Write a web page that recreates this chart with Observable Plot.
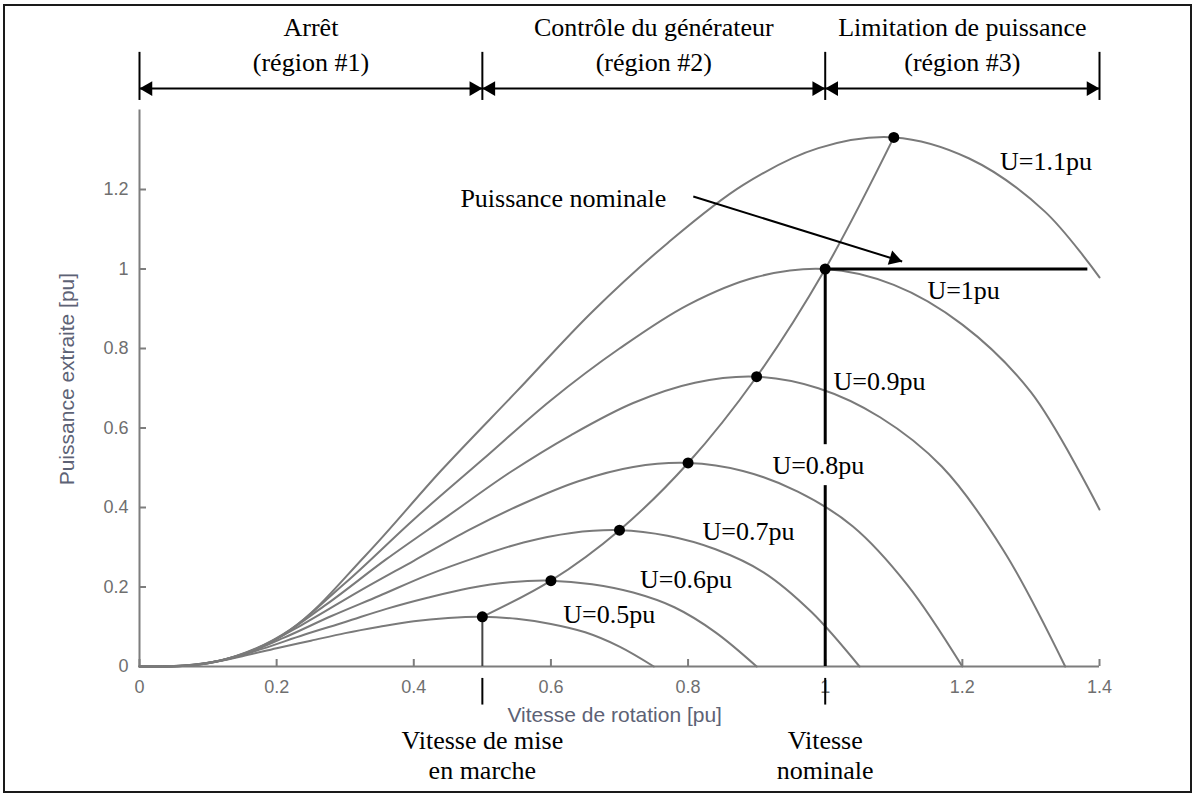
<!DOCTYPE html>
<html><head><meta charset="utf-8">
<script src="https://cdn.jsdelivr.net/npm/d3@7"></script>
<script src="https://cdn.jsdelivr.net/npm/@observablehq/plot@0.6"></script>
<style>
html,body{margin:0;padding:0;background:#fff;}
#wrap{position:relative;width:1197px;height:798px;overflow:hidden;background:#fff;}
#border{position:absolute;left:3px;top:4px;width:1189px;height:789px;border:2px solid #1a1a1a;box-sizing:border-box;pointer-events:none;}
#chart svg{display:block;}
</style></head><body>
<div id="wrap"><div id="chart"></div><div id="border"></div></div>
<script>
// ---- data ----
const windSpeeds = [0.5, 0.6, 0.7, 0.8, 0.9, 1.0, 1.1];
const U05x = [0,0.05,0.10,0.15,0.20,0.25,0.30,0.35,0.40,0.45,0.50,0.55,0.60,0.65,0.70,0.75];
const U05y = [0,0.001,0.009,0.026,0.046,0.065,0.084,0.100,0.114,0.122,0.125,0.120,0.107,0.086,0.050,0];
const U06x = [0,0.06,0.12,0.18,0.24,0.30,0.36,0.42,0.48,0.54,0.60,0.66,0.72,0.78,0.84,0.90];
const U06y = [0,0.002,0.015,0.045,0.080,0.112,0.145,0.173,0.197,0.212,0.216,0.207,0.186,0.149,0.086,0];
const U07x = [0,0.07,0.14,0.21,0.28,0.35,0.42,0.49,0.56,0.63,0.70,0.77,0.84,0.91,0.98,1.05];
const U07y = [0,0.003,0.024,0.072,0.127,0.178,0.230,0.274,0.312,0.336,0.343,0.329,0.295,0.237,0.137,0];
const U08x = [0,0.08,0.16,0.24,0.32,0.40,0.48,0.56,0.64,0.72,0.80,0.88,0.96,1.04,1.12,1.20];
const U08y = [0,0.004,0.036,0.108,0.189,0.266,0.343,0.410,0.466,0.502,0.512,0.492,0.440,0.353,0.205,0];
const U09x = [0,0.09,0.18,0.27,0.36,0.45,0.54,0.63,0.72,0.81,0.90,0.99,1.08,1.17,1.26,1.35];
const U09y = [0,0.006,0.051,0.153,0.270,0.379,0.488,0.583,0.663,0.714,0.729,0.700,0.627,0.503,0.292,0];
const U10x = [0,0.1,0.2,0.3,0.4,0.5,0.6,0.7,0.8,0.9,1.0,1.1,1.2,1.3,1.4];
const U10y = [0,0.008,0.070,0.210,0.370,0.520,0.670,0.800,0.910,0.980,1.000,0.960,0.860,0.690,0.395];
const U11x = [0,0.11,0.22,0.33,0.44,0.55,0.66,0.77,0.88,0.99,1.10,1.21,1.32,1.40];
const U11y = [0,0.011,0.093,0.280,0.493,0.692,0.892,1.065,1.211,1.304,1.331,1.278,1.145,0.979];

const peakX = [0.5, 0.6, 0.7, 0.8, 0.9, 1.0, 1.1];
const peakY = [0.125, 0.216, 0.343, 0.512, 0.729, 1.0, 1.331];

const xTicks = [0, 0.2, 0.4, 0.6, 0.8, 1, 1.2, 1.4];
const yTicks = [0, 0.2, 0.4, 0.6, 0.8, 1, 1.2];
const xLabel = "Vitesse de rotation [pu]";
const yLabel = "Puissance extraite [pu]";

const curveLabels = ["U=0.5pu","U=0.6pu","U=0.7pu","U=0.8pu","U=0.9pu","U=1pu","U=1.1pu"];
const curveLabelX = [0.618, 0.730, 0.821, 0.923, 1.012, 1.149, 1.255];
const curveLabelY = [0.131, 0.219, 0.340, 0.506, 0.717, 0.946, 1.270];

const regionBounds = [0, 0.5, 1.0, 1.4];
const regionNames = ["Arrêt", "Contrôle du générateur", "Limitation de puissance"];
const regionSubs = ["(région #1)", "(région #2)", "(région #3)"];
const regionArrowY = 1.454, regionBarTop = 1.545, regionBarBottom = 1.424;
const regionLine1Y = 1.607, regionLine2Y = 1.520;

const nominalPower = 1.0, nominalSpeed = 1.0, cutInSpeed = 0.5, powerLimitEnd = 1.383;
const gapLow = 0.455, gapHigh = 0.558;

const pnText = "Puissance nominale";
const pnTextPos = {x: 0.468, y: 1.177};
const pnArrow = {x1: 0.8076, y1: 1.1824, x2: 1.1122, y2: 1.0189};

const bottomNotes = [
  {x: 0.5, lines: ["Vitesse de mise", "en marche"]},
  {x: 1.0, lines: ["Vitesse", "nominale"]}
];
const bottomLineY = [-0.030, -0.097];
const bottomTextY = [-0.186, -0.262];

// ---- build tables ----
const series = [[U05x,U05y],[U06x,U06y],[U07x,U07y],[U08x,U08y],[U09x,U09y],[U10x,U10y],[U11x,U11y]];
const curves = [];
series.forEach(([xs, ys], k) => xs.forEach((x, i) => curves.push({u: windSpeeds[k], x, y: ys[i]})));
const peaks = peakX.map((x, i) => ({x, y: peakY[i]}));
const labels = curveLabels.map((t, i) => ({t, x: curveLabelX[i], y: curveLabelY[i]}));
const regions = regionNames.map((n, i) => ({name: n, sub: regionSubs[i], x1: regionBounds[i], x2: regionBounds[i+1], xm: (regionBounds[i] + regionBounds[i+1]) / 2}));
const leftHeads = regions.map(r => ({x: r.x1, y: regionArrowY}));
const rightHeads = regions.map(r => ({x: r.x2, y: regionArrowY}));
const bottomText = bottomNotes.flatMap(n => n.lines.map((t, j) => ({x: n.x, y: bottomTextY[j], t})));

const serif = "'Liberation Serif', 'Times New Roman', serif";
const sans = "'Liberation Sans', Arial, sans-serif";
const axisColor = "#7d7d7d", tickColor = "#6f6f6f", labelColor = "#5d6275", curveColor = "#7a7a7a";

const W = 1197, H = 798, mL = 139, mR = 98, mT = 109.5, mB = 132;
const pxPerX = (W - mL - mR) / 1.4, pxPerY = (H - mT - mB) / 1.4;
const tickLen = 7;
const adx = (pnArrow.x2 - pnArrow.x1) * pxPerX, ady = (pnArrow.y1 - pnArrow.y2) * pxPerY;
const ang = Math.atan2(ady, adx);
const headOff = 8.5;

const chart = Plot.plot({
  width: W, height: H,
  marginLeft: mL, marginRight: mR, marginTop: mT, marginBottom: mB,
  x: {domain: [0, 1.4]},
  y: {domain: [0, 1.4]},
  style: {fontFamily: sans, fontSize: "18px", background: "transparent", overflow: "visible"},
  marks: [
    // axes
    Plot.ruleY([0], {stroke: axisColor, strokeWidth: 2}),
    Plot.ruleX([0], {stroke: axisColor, strokeWidth: 2}),
    Plot.ruleX(xTicks, {x: d => d, y1: 0, y2: tickLen / pxPerY, stroke: axisColor, strokeWidth: 2}),
    Plot.ruleY(yTicks, {y: d => d, x1: 0, x2: tickLen / pxPerX, stroke: axisColor, strokeWidth: 2}),
    Plot.axisX({ticks: xTicks, tickSize: 0, tickPadding: 14, tickFormat: d => String(d), color: tickColor, fontSize: 18, label: null}),
    Plot.axisY({ticks: yTicks, tickSize: 0, tickPadding: 11, tickFormat: d => String(d), color: tickColor, fontSize: 18, label: null}),
    Plot.text([xLabel], {x: 0.693, y: -0.123, text: d => d, fill: labelColor, fontSize: 21, fontFamily: sans, lineAnchor: "middle"}),
    Plot.text([yLabel], {x: -0.106, y: 0.723, text: d => d, fill: labelColor, fontSize: 21, fontFamily: sans, rotate: -90, lineAnchor: "middle"}),
    // power curves
    Plot.line(curves, {x: "x", y: "y", z: "u", curve: "catmull-rom", stroke: curveColor, strokeWidth: 2}),
    // optimal-power trajectory
    Plot.line(peaks, {x: "x", y: "y", curve: "catmull-rom", stroke: curveColor, strokeWidth: 2}),
    // cut-in speed line
    Plot.ruleX([cutInSpeed], {x: d => d, y1: 0, y2: peakY[0], stroke: "#444", strokeWidth: 2}),
    // nominal speed line (with gap for label) and nominal power line
    Plot.ruleX([[0, gapLow], [gapHigh, nominalPower]], {x: nominalSpeed, y1: d => d[0], y2: d => d[1], stroke: "black", strokeWidth: 3}),
    Plot.ruleY([nominalPower], {y: d => d, x1: nominalSpeed, x2: powerLimitEnd, stroke: "black", strokeWidth: 3}),
    Plot.dot(peaks, {x: "x", y: "y", r: 5.5, fill: "black", stroke: "none"}),
    // curve labels
    Plot.text(labels, {x: "x", y: "y", text: "t", textAnchor: "start", lineAnchor: "middle", fontFamily: serif, fontSize: 26, fill: "black"}),
    // puissance nominale annotation
    Plot.text([pnTextPos], {x: "x", y: "y", text: () => pnText, textAnchor: "start", lineAnchor: "middle", fontFamily: serif, fontSize: 26, fill: "black"}),
    Plot.link([pnArrow], {x1: "x1", y1: "y1", x2: "x2", y2: "y2", stroke: "black", strokeWidth: 2}),
    Plot.dot([pnArrow], {x: "x2", y: "y2", symbol: "triangle", r: 5.5, fill: "black", stroke: "none",
      rotate: 90 + ang * 180 / Math.PI, dx: -headOff * Math.cos(ang), dy: -headOff * Math.sin(ang)}),
    // region headers
    Plot.ruleX(regionBounds, {x: d => d, y1: regionBarBottom, y2: regionBarTop, stroke: "black", strokeWidth: 2}),
    Plot.ruleY(regions, {y: regionArrowY, x1: "x1", x2: "x2", stroke: "black", strokeWidth: 2}),
    Plot.dot(leftHeads, {x: "x", y: "y", symbol: "triangle", r: 5.5, rotate: -90, dx: headOff, fill: "black", stroke: "none"}),
    Plot.dot(rightHeads, {x: "x", y: "y", symbol: "triangle", r: 5.5, rotate: 90, dx: -headOff, fill: "black", stroke: "none"}),
    Plot.text(regions, {x: "xm", y: regionLine1Y, text: "name", lineAnchor: "middle", fontFamily: serif, fontSize: 26, fill: "black"}),
    Plot.text(regions, {x: "xm", y: regionLine2Y, text: "sub", lineAnchor: "middle", fontFamily: serif, fontSize: 26, fill: "black"}),
    // bottom notes
    Plot.ruleX(bottomNotes, {x: "x", y1: bottomLineY[0], y2: bottomLineY[1], stroke: "black", strokeWidth: 2}),
    Plot.text(bottomText, {x: "x", y: "y", text: "t", lineAnchor: "middle", fontFamily: serif, fontSize: 26, fill: "black"})
  ]
});
document.getElementById("chart").append(chart);
</script>
</body></html>
